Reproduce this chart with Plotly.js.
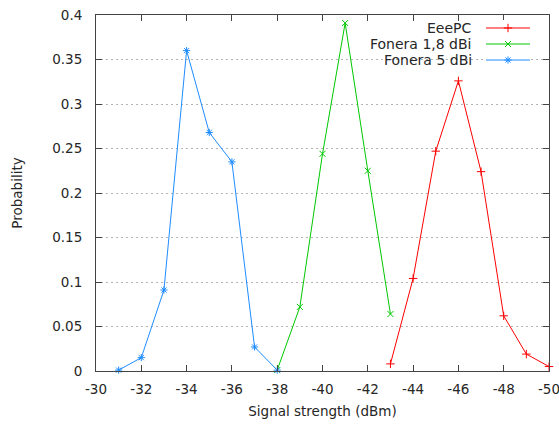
<!DOCTYPE html>
<html>
<head>
<meta charset="utf-8">
<script src="https://cdn.plot.ly/plotly-3.0.1.min.js"></script>
<style>html,body{margin:0;padding:0;background:#fff;}#chart{width:559px;height:424px;}</style>
</head>
<body>
<div id="chart"></div>
<script>
// ---- data ----
const seriesNames = ["EeePC", "Fonera 1,8 dBi", "Fonera 5 dBi"];
const eeepcX = [-43, -44, -45, -46, -47, -48, -49, -50];
const eeepcY = [0.008, 0.104, 0.247, 0.326, 0.224, 0.062, 0.019, 0.005];
const fonera18X = [-38, -39, -40, -41, -42, -43];
const fonera18Y = [0.001, 0.072, 0.244, 0.391, 0.225, 0.064];
const fonera5X = [-31, -32, -33, -34, -35, -36, -37, -38];
const fonera5Y = [0.001, 0.015, 0.091, 0.360, 0.268, 0.235, 0.027, 0.001];
const xTickVals = [-30, -32, -34, -36, -38, -40, -42, -44, -46, -48, -50];
const xTickText = ["-30", "-32", "-34", "-36", "-38", "-40", "-42", "-44", "-46", "-48", "-50"];
const yTickVals = [0, 0.05, 0.1, 0.15, 0.2, 0.25, 0.3, 0.35, 0.4];
const yTickText = ["0", "0.05", "0.1", "0.15", "0.2", "0.25", "0.3", "0.35", "0.4"];

// ---- styles ----
const colors = ["#ff0000", "#00c800", "#1e8cff"];
const symbols = ["cross-thin-open", "x-thin-open", "asterisk-open"];
const xs = [eeepcX, fonera18X, fonera5X];
const ys = [eeepcY, fonera18Y, fonera5Y];
const FONT = "DejaVu Sans, sans-serif";
const TXT = "#262626";
const MS = 6;

const traces = [];
for (let i = 0; i < 3; i++) {
  traces.push({
    x: xs[i], y: ys[i], name: seriesNames[i], type: "scatter", mode: "lines+markers",
    line: {color: colors[i], width: 1},
    marker: {symbol: symbols[i], size: MS, color: colors[i], line: {color: colors[i], width: 1}},
    cliponaxis: false, showlegend: false, hoverinfo: "skip"
  });
}
// custom legend (gnuplot style: text then sample) on a helper axis; row = series index
const annotations = [];
for (let i = 0; i < 3; i++) {
  traces.push({x: [0, 1], y: [i, i], xaxis: "x2", yaxis: "y2", mode: "lines",
    line: {color: colors[i], width: 1}, showlegend: false, hoverinfo: "skip"});
  traces.push({x: [0.5], y: [i], xaxis: "x2", yaxis: "y2", mode: "markers",
    marker: {symbol: symbols[i], size: MS, color: colors[i], line: {color: colors[i], width: 1}},
    showlegend: false, hoverinfo: "skip"});
  annotations.push({xref: "x2", yref: "y2", x: 0, y: i, xanchor: "right", yanchor: "middle",
    xshift: -12, text: seriesNames[i], showarrow: false, font: {family: FONT, size: 14, color: TXT}});
}

const layout = {
  width: 559, height: 424,
  margin: {l: 96, r: 10, t: 15, b: 53},
  paper_bgcolor: "#ffffff", plot_bgcolor: "#ffffff",
  font: {family: FONT, size: 13.5, color: TXT},
  showlegend: false,
  xaxis: {
    range: [-30, -50], tickvals: xTickVals, ticktext: xTickText,
    ticks: "inside", ticklen: 6, tickcolor: "#444", tickwidth: 1,
    showline: true, linecolor: "#444", linewidth: 1, mirror: "ticks",
    showgrid: false, zeroline: false, ticklabelstandoff: 6, ticklabeloverflow: "allow",
    title: {text: "Signal strength (dBm)", font: {family: FONT, size: 13.5, color: TXT}, standoff: 10}
  },
  yaxis: {
    range: [0, 0.4], tickvals: yTickVals, ticktext: yTickText,
    ticks: "inside", ticklen: 6, tickcolor: "#444", tickwidth: 1,
    showline: true, linecolor: "#444", linewidth: 1, mirror: "ticks",
    showgrid: true, gridcolor: "#b4b4b4", griddash: "2px,3px", gridwidth: 1,
    zeroline: false, ticklabelstandoff: 10,
    title: {text: "Probability", font: {family: FONT, size: 13.5, color: TXT}, standoff: 26}
  },
  xaxis2: {domain: [0.861, 0.958], range: [0, 1], anchor: "y2", visible: false, fixedrange: true},
  yaxis2: {domain: [0.851, 0.986], range: [2.5, -0.5], anchor: "x2", visible: false, fixedrange: true},
  annotations: annotations
};

Plotly.newPlot("chart", traces, layout, {staticPlot: true, displayModeBar: false});
</script>
</body>
</html>
